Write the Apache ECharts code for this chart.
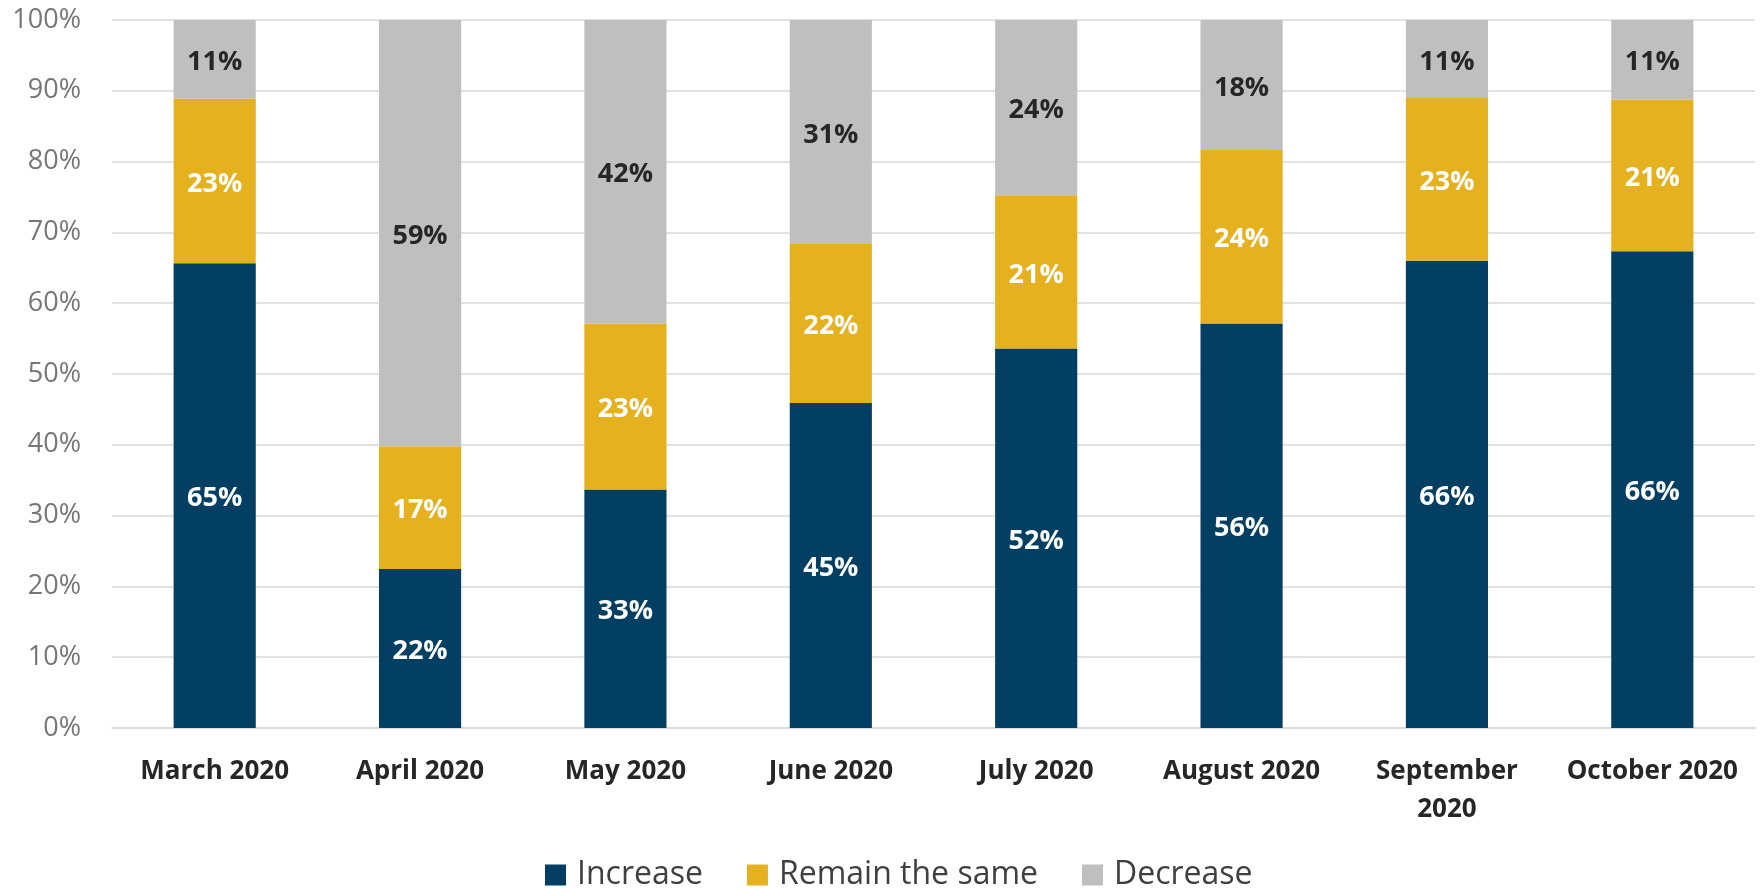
<!DOCTYPE html>
<html>
<head>
<meta charset="utf-8">
<script src="https://cdn.jsdelivr.net/npm/echarts@6/dist/echarts.min.js"></script>
<style>
  html, body { margin: 0; padding: 0; background: #fff; }
  #chart { width: 1763px; height: 888px; }
</style>
</head>
<body>
<div id="chart"></div>
<script>
// survey answers per month (raw %, chart shows each bar scaled to 100%)
const months = ['March 2020', 'April 2020', 'May 2020', 'June 2020', 'July 2020', 'August 2020', 'September\n2020', 'October 2020']
const increase = [65, 22, 33, 45, 52, 56, 66, 66]
const remainSame = [23, 17, 23, 22, 21, 24, 23, 21]
const decrease = [11, 59, 42, 31, 24, 18, 11, 11]
const yTicks = [0, 10, 20, 30, 40, 50, 60, 70, 80, 90, 100]

const totals = months.map((m, i) => increase[i] + remainSame[i] + decrease[i])

const chart = echarts.init(document.getElementById('chart'))

function makeSeries(name, raw, color, labelColor) {
  return {
    name: name,
    type: 'bar',
    stack: 'total',
    barCategoryGap: '60%',
    data: raw.map((v, i) => ({ value: v / totals[i] * 100, raw: v })),
    itemStyle: { color: color },
    label: {
      show: true,
      position: 'inside',
      offset: [0, 3],
      color: labelColor,
      fontFamily: 'Open Sans',
      fontWeight: 'bold',
      fontSize: 27,
      formatter: p => p.data.raw + '%'
    },
    emphasis: { disabled: true }
  }
}

chart.setOption({
  animation: false,
  grid: { left: 112, right: 8, top: 20, bottom: 160 },
  legend: {
    top: 854,
    left: 540,
    itemWidth: 21,
    itemHeight: 21,
    itemGap: 44,
    icon: 'rect',
    textStyle: { fontFamily: 'Open Sans', fontSize: 32, color: '#404040', padding: [0, 0, 0, 6] },
    data: ['Increase', 'Remain the same', 'Decrease']
  },
  xAxis: {
    type: 'category',
    data: months,
    axisLine: { lineStyle: { color: '#d9d9d9', width: 1.5 } },
    axisTick: { show: false },
    axisLabel: {
      margin: 25,
      color: '#262626',
      fontFamily: 'Open Sans',
      fontWeight: 'bold',
      fontSize: 26,
      lineHeight: 38,
      interval: 0
    }
  },
  yAxis: {
    type: 'value',
    min: yTicks[0],
    max: yTicks[yTicks.length - 1],
    interval: 10,
    axisLine: { show: false },
    axisTick: { show: false },
    axisLabel: {
      margin: 31,
      color: '#767676',
      fontFamily: 'Open Sans',
      fontSize: 27,
      formatter: v => v + '%'
    },
    splitLine: { lineStyle: { color: '#d9d9d9', width: 1.5 } }
  },
  series: [
    makeSeries('Increase', increase, '#033f63', '#ffffff'),
    makeSeries('Remain the same', remainSame, '#e6b11f', '#ffffff'),
    makeSeries('Decrease', decrease, '#bfbfbf', '#262626')
  ]
})
</script>
</body>
</html>
